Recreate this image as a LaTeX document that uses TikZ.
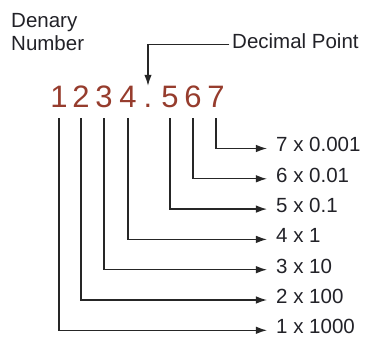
\documentclass[tikz,border=0pt]{standalone}
\usepackage{fontspec}
\setmainfont{Liberation Sans}
\usetikzlibrary{arrows.meta}
\definecolor{digitbrown}{RGB}{150,60,45}
\definecolor{labelgrey}{RGB}{34,34,40}
\begin{document}
\begin{tikzpicture}[x=1pt,y=-1pt,
  dig/.style={font=\fontsize{31}{34}\selectfont, text=digitbrown, inner sep=0pt, anchor=base, text height=22pt, text depth=0pt},
  lab/.style={font=\fontsize{20.5}{23}\selectfont, text=labelgrey, inner sep=0pt, anchor=west, text height=7pt, text depth=0pt},
  note/.style={font=\fontsize{20.5}{23.5}\selectfont, text=labelgrey, inner sep=0pt, align=left, anchor=north west},
  conn/.style={draw=black!85, line width=1.3pt, -{Latex[length=11pt,width=7.5pt]}},
  place/.style={conn, shorten <=10pt, shorten >=9pt}
]
\useasboundingbox (0,0) rectangle (368,339);

% title
\node[note] (title) at (11,13) {Denary\\Number};

% digits
\node[dig] (d1) at (59,108) {1};
\node[dig] (d2) at (81,108) {2};
\node[dig] (d3) at (104,108) {3};
\node[dig] (d4) at (128,108) {4};
\node[dig] (dot) at (148,108) {.};
\node[dig] (d5) at (170,108) {5};
\node[dig] (d6) at (193,108) {6};
\node[dig] (d7) at (216,108) {7};

% decimal point label
\node[lab] (dp) at (232,44.7) {Decimal Point};
\draw[conn, shorten <=2.5pt] (dp.west) -| (dot.north);

% place value labels
\node[lab] (l7) at (276,148.5) {7 x 0.001};
\node[lab] (l6) at (276,178.8) {6 x 0.01};
\node[lab] (l5) at (276,209.1) {5 x 0.1};
\node[lab] (l4) at (276,239.4) {4 x 1};
\node[lab] (l3) at (276,269.7) {3 x 10};
\node[lab] (l2) at (276,300) {2 x 100};
\node[lab] (l1) at (276,330.3) {1 x 1000};

% connectors
\draw[place] (d1.south) |- (l1.west);
\draw[place] (d2.south) |- (l2.west);
\draw[place] (d3.south) |- (l3.west);
\draw[place] (d4.south) |- (l4.west);
\draw[place] (d5.south) |- (l5.west);
\draw[place] (d6.south) |- (l6.west);
\draw[place] (d7.south) |- (l7.west);
\end{tikzpicture}
\end{document}
